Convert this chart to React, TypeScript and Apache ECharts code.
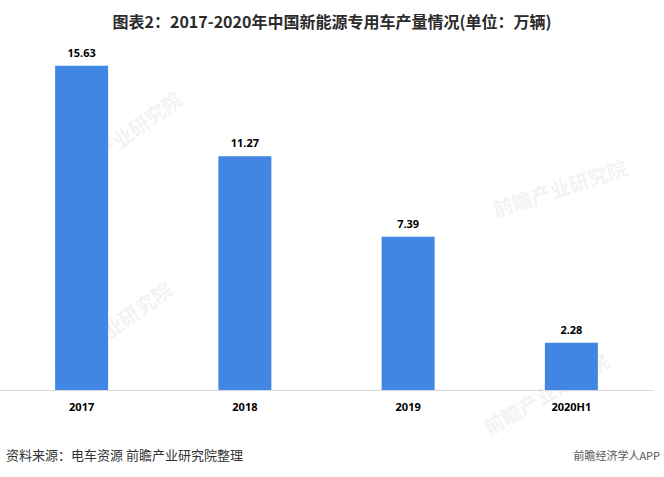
import React, { useEffect, useRef } from "react";
import * as echarts from "echarts";

const categories = ["2017", "2018", "2019", "2020H1"];
const values = [15.63, 11.27, 7.39, 2.28];
const titleText = "图表2：2017-2020年中国新能源专用车产量情况(单位：万辆)";
const sourceText = "资料来源：电车资源 前瞻产业研究院整理";
const brandText = "前瞻经济学人APP";

export default function App() {
  const ref = useRef<HTMLDivElement>(null);
  useEffect(() => {
    document.body.style.margin = "0";
    const chart = echarts.init(ref.current!, null, { renderer: "svg" });
    const wm = (x: number, y: number, rot: number) => ({
      type: "text",
      x,
      y,
      rotation: rot,
      z: -1,
      style: {
        text: "前瞻产业研究院",
        fill: "rgba(200,200,200,0.22)",
        font: "bold 20px 'Noto Sans CJK SC'",
      },
    });
    chart.setOption({
      animation: false,
      backgroundColor: "#ffffff",
      title: {
        text: titleText,
        left: "center",
        top: 8,
        textStyle: {
          fontFamily: "'Noto Sans CJK SC', sans-serif",
          fontWeight: "bold",
          fontSize: 16,
          color: "#2b2b2b",
        },
      },
      grid: { left: -4, right: 11, top: 58, bottom: 87 },
      xAxis: {
        type: "category",
        data: categories,
        axisLine: { lineStyle: { color: "#d9d9d9", width: 1 } },
        axisTick: { show: false },
        axisLabel: {
          color: "#000",
          fontWeight: "bold",
          fontSize: 11,
          fontFamily: "'Noto Sans', sans-serif",
          margin: 11,
        },
      },
      yAxis: {
        type: "value",
        min: 0,
        max: 16,
        show: false,
        splitLine: { show: false },
      },
      series: [
        {
          type: "bar",
          data: values,
          barWidth: 53,
          itemStyle: { color: "#4286e3" },
          label: {
            show: true,
            position: "top",
            distance: 8,
            color: "#000",
            fontWeight: "bold",
            fontSize: 11,
            fontFamily: "'Noto Sans', sans-serif",
            formatter: (p: any) => p.value.toFixed(2),
          },
        },
      ],
      graphic: [
        wm(60, 170, Math.PI / 5),
        wm(490, 200, Math.PI / 10),
        wm(50, 360, Math.PI / 5),
        wm(480, 420, Math.PI / 6),
        {
          type: "text",
          left: 6,
          top: 448,
          style: {
            text: sourceText,
            fill: "#333333",
            font: "13px 'Noto Sans CJK SC'",
          },
        },
        {
          type: "text",
          right: 4,
          top: 449,
          style: {
            text: brandText,
            fill: "#555555",
            font: "11px 'Noto Sans CJK SC'",
          },
        },
      ],
    });
    return () => chart.dispose();
  }, []);
  return <div ref={ref} style={{ width: 664, height: 477 }} />;
}
